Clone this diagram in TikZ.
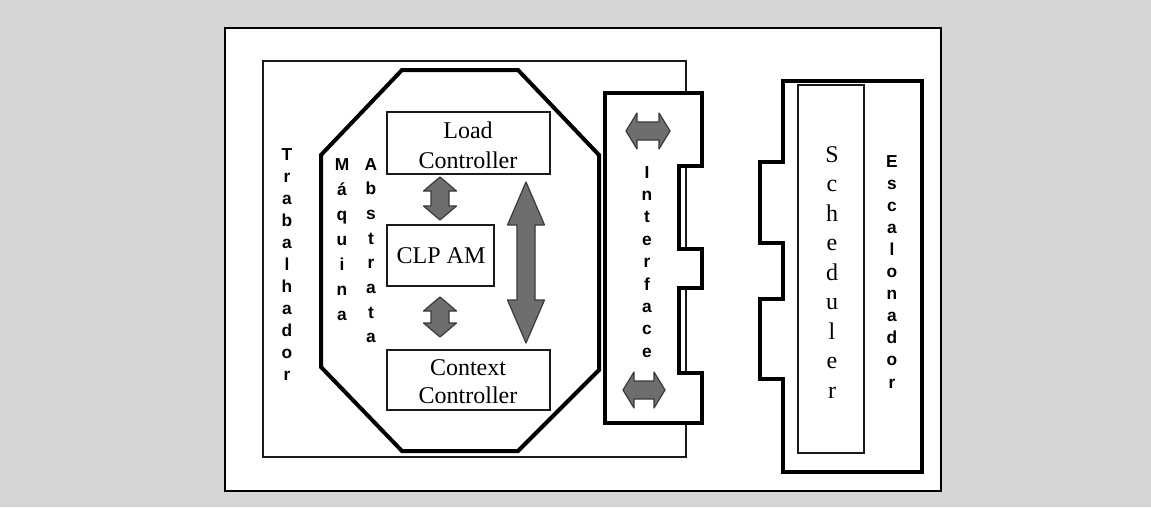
\documentclass[tikz,border=0pt]{standalone}
\usepackage{fontspec}
\setmainfont{Liberation Serif}
\setsansfont{Liberation Sans}
\usetikzlibrary{fit}
\definecolor{scanbg}{HTML}{D6D6D6}
\definecolor{arrowfill}{HTML}{6E6E6E}
\definecolor{arrowline}{HTML}{3A3A3A}
\definecolor{inkline}{HTML}{1A1A1A}
\newcommand\vdblarrow[6]{% cx, y1, y2, head half width, shaft half width, head length
  \filldraw[blockarrow] (#1,#2) -- ({#1+#4},{#2+#6}) -- ({#1+#5},{#2+#6}) -- ({#1+#5},{#3-#6})
    -- ({#1+#4},{#3-#6}) -- (#1,#3) -- ({#1-#4},{#3-#6}) -- ({#1-#5},{#3-#6})
    -- ({#1-#5},{#2+#6}) -- ({#1-#4},{#2+#6}) -- cycle;}
\newcommand\hdblarrow[6]{% cy, x1, x2, head half height, shaft half height, head length
  \filldraw[blockarrow] (#2,#1) -- ({#2+#6},{#1-#4}) -- ({#2+#6},{#1-#5}) -- ({#3-#6},{#1-#5})
    -- ({#3-#6},{#1-#4}) -- (#3,#1) -- ({#3-#6},{#1+#4}) -- ({#3-#6},{#1+#5})
    -- ({#2+#6},{#1+#5}) -- ({#2+#6},{#1+#4}) -- cycle;}
\tikzset{
  thinbox/.style={draw=inkline, line width=1.2pt, inner sep=0pt, fill=white},
  thickline/.style={draw=black, line width=3pt, line join=miter},
  blockarrow/.style={fill=arrowfill, draw=arrowline, line width=0.9pt, line join=round},
  sanslab/.style={font=\sffamily\bfseries\fontsize{13}{15}\selectfont, inner sep=0pt, anchor=base},
  seriflab/.style={font=\fontsize{18}{22}\selectfont, inner sep=0pt, anchor=base}
}
\begin{document}
\begin{tikzpicture}[x=0.75pt,y=-0.75pt]
\useasboundingbox (0,0) rectangle (1151,507);
\fill[scanbg] (0,0) rectangle (1151,507);
% outer frame
\node[draw=black, line width=2pt, fill=white, inner sep=0pt, fit={(225,28)(941,491)}] (frame) {};
% Trabalhador rectangle
\node[draw=inkline, line width=1.2pt, inner sep=0pt, fit={(263,61)(686,457)}] (trab) {};
% Abstract machine octagon
\draw[thickline, fill=white] (402,70) -- (518,70) -- (599,155) -- (599,370) -- (518,451)
  -- (402,451) -- (321,367) -- (321,155) -- cycle;
% inner boxes
\node[thinbox, fit={(387,112)(550,174)}] (load) {};
\node[thinbox, fit={(387,225)(494,286)}] (clp) {};
\node[thinbox, fit={(387,350)(550,410)}] (ctx) {};
\node[seriflab] (load-1) at (468,138) {Load};
\node[seriflab] (load-2) at (468,168) {Controller};
\node[seriflab] (clp-1) at (441,263) {CLP AM};
\node[seriflab] (ctx-1) at (468,375) {Context};
\node[seriflab] (ctx-2) at (468,403) {Controller};
% block arrows
\vdblarrow{440}{177}{220}{16.5}{9}{14}
\vdblarrow{440}{297}{337}{16.5}{9}{14}
\vdblarrow{526}{182}{343}{18.5}{9}{43}
% Interface
\draw[thickline, fill=white] (605,93) -- (702,93) -- (702,166) -- (679,166) -- (679,249)
  -- (702,249) -- (702,288) -- (679,288) -- (679,373) -- (702,373) -- (702,423)
  -- (605,423) -- cycle;
\hdblarrow{131}{626}{670}{18}{9}{11}
\hdblarrow{390}{623}{665}{18}{9}{11}
% Escalonador
\draw[thickline, fill=white] (783,81) -- (922,81) -- (922,472) -- (783,472) -- (783,379)
  -- (760,379) -- (760,299) -- (783,299) -- (783,243) -- (760,243) -- (760,162)
  -- (783,162) -- cycle;
\node[thinbox, fit={(798,85)(864,453)}] (sched) {};
% vertical labels
\foreach \c [count=\i from 0] in {T,r,a,b,a,l,h,a,d,o,r}
  \node[sanslab] (trab-\i) at (287,{160+22*\i}) {\c};
\foreach \c [count=\i from 0] in {M,á,q,u,i,n,a}
  \node[sanslab] (maq-\i) at (342,{170+25*\i}) {\c};
\foreach \c [count=\i from 0] in {A,b,s,t,r,a,t,a}
  \node[sanslab] (abs-\i) at (371,{170+24.7*\i}) {\c};
\foreach \c [count=\i from 0] in {I,n,t,e,r,f,a,c,e}
  \node[sanslab] (intf-\i) at (647,{178+22.4*\i}) {\c};
\foreach \c [count=\i from 0] in {E,s,c,a,l,o,n,a,d,o,r}
  \node[sanslab] (esc-\i) at (892,{167+22.1*\i}) {\c};
\foreach \c [count=\i from 0] in {S,c,h,e,d,u,l,e,r}
  \node[seriflab] (sch-\i) at (832,{162+29.5*\i}) {\c};
\end{tikzpicture}
\end{document}
